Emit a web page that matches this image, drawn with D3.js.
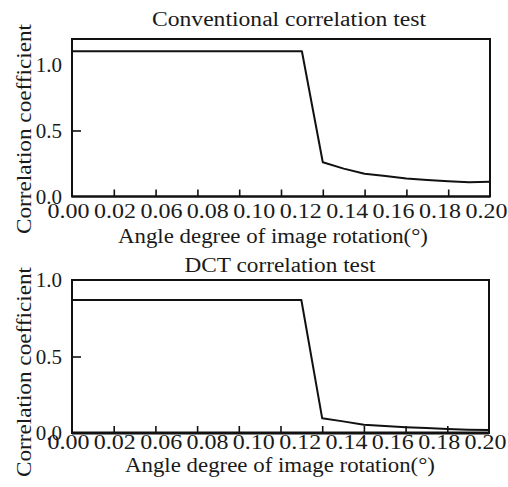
<!DOCTYPE html>
<html>
<head>
<meta charset="utf-8">
<script src="https://cdn.jsdelivr.net/npm/d3@7"></script>
<style>
  html, body { margin: 0; padding: 0; background: #fff; }
  svg { display: block; }
  text { font-family: "Liberation Serif", "DejaVu Serif", serif; fill: #1a1a1a; }
</style>
</head>
<body>
<script>
// values
const angles = [0, 0.02, 0.04, 0.06, 0.08, 0.10, 0.11, 0.12, 0.13, 0.14, 0.15, 0.16, 0.17, 0.18, 0.19, 0.20];
const conventional = [1.10, 1.10, 1.10, 1.10, 1.10, 1.10, 1.10, 0.259, 0.211, 0.172, 0.155, 0.137, 0.125, 0.116, 0.108, 0.112];
const dct = [0.869, 0.869, 0.869, 0.869, 0.869, 0.869, 0.869, 0.096, 0.076, 0.054, 0.045, 0.037, 0.032, 0.026, 0.022, 0.020];
const angleLabels = ["0.00", "0.02", "0.06", "0.08", "0.10", "0.12", "0.14", "0.16", "0.18", "0.20"];
const angleTicks = [0.02, 0.04, 0.06, 0.08, 0.10, 0.12, 0.14, 0.16, 0.18];
const yLabels = [0, 0.5, 1.0];

const panels = [
  { title: "Conventional correlation test", values: conventional,
    left: 72, right: 490, top: 39, bottom: 196.5, yMax: 1.193,
    titleX: 289, titleY: 26, titleLen: 274, tickY: 218, xTitleY: 243, xTitleX: 273, yTitleY: 129, bottomW: 2 },
  { title: "DCT correlation test", values: dct,
    left: 72, right: 489, top: 280, bottom: 433, yMax: 1.0,
    titleX: 280, titleY: 272, titleLen: 191, tickY: 449, xTitleY: 472, xTitleX: 280, yTitleY: 372, bottomW: 3 }
];

const svg = d3.select("body").append("svg")
  .attr("width", 508)
  .attr("height", 487);

panels.forEach(p => {
  const g = svg.append("g");

  const x = d3.scaleLinear().domain([0, 0.20]).range([p.left, p.right]);
  const y = d3.scaleLinear().domain([0, p.yMax]).range([p.bottom, p.top]);
  const xl = d3.scalePoint().domain(angleLabels).range([p.left - 4, p.right - 4]);

  // title
  g.append("text")
    .attr("x", p.titleX).attr("y", p.titleY)
    .attr("text-anchor", "middle")
    .attr("font-size", 20)
    .attr("textLength", p.titleLen)
    .attr("lengthAdjust", "spacingAndGlyphs")
    .text(p.title);

  // inner ticks along the bottom
  g.append("g")
    .attr("transform", `translate(0,${p.bottom})`)
    .call(d3.axisBottom(x).tickValues(angleTicks).tickSize(-7).tickFormat(""))
    .call(a => a.select(".domain").remove())
    .selectAll("line").attr("stroke", "#111").attr("stroke-width", 1.6);

  // inner tick at 0.5 on the left
  g.append("g")
    .attr("transform", `translate(${p.left},0)`)
    .call(d3.axisLeft(y).tickValues([0.5]).tickSize(-9).tickFormat(""))
    .call(a => a.select(".domain").remove())
    .selectAll("line").attr("stroke", "#111").attr("stroke-width", 1.6);

  // y labels
  g.append("g")
    .attr("transform", `translate(${p.left},0)`)
    .call(d3.axisLeft(y).tickValues(yLabels).tickSize(0).tickPadding(10).tickFormat(d3.format(".1f")))
    .call(a => a.select(".domain").remove())
    .selectAll("text")
    .attr("font-size", 21)
    .attr("fill", "#1a1a1a")
    .attr("font-family", "Liberation Serif");

  // x labels (the figure's labels are spread evenly, 0.04 missing)
  g.append("g")
    .attr("transform", `translate(0,${p.tickY})`)
    .call(d3.axisBottom(xl).tickSize(0).tickPadding(0))
    .call(a => a.select(".domain").remove())
    .selectAll("text")
    .attr("dy", 0)
    .attr("font-size", 20)
    .attr("fill", "#1a1a1a")
    .attr("font-family", "Liberation Serif")
    .attr("textLength", 42)
    .attr("lengthAdjust", "spacingAndGlyphs");

  // frame
  g.append("rect")
    .attr("x", p.left).attr("y", p.top)
    .attr("width", p.right - p.left).attr("height", p.bottom - p.top)
    .attr("fill", "none").attr("stroke", "#111").attr("stroke-width", 2);
  g.append("line")
    .attr("x1", p.left).attr("x2", p.right)
    .attr("y1", p.bottom).attr("y2", p.bottom)
    .attr("stroke", "#111").attr("stroke-width", p.bottomW);

  // data line
  const line = d3.line()
    .x((d, i) => x(angles[i]))
    .y(d => y(d));
  g.append("path")
    .datum(p.values)
    .attr("d", line)
    .attr("fill", "none")
    .attr("stroke", "#111")
    .attr("stroke-width", 2)
    .attr("stroke-linejoin", "round");

  // axis titles
  g.append("text")
    .attr("x", p.xTitleX).attr("y", p.xTitleY)
    .attr("text-anchor", "middle")
    .attr("font-size", 20)
    .attr("textLength", 310)
    .attr("lengthAdjust", "spacingAndGlyphs")
    .text("Angle degree of image rotation(°)");

  g.append("text")
    .attr("transform", `translate(31,${p.yTitleY}) rotate(-90)`)
    .attr("text-anchor", "middle")
    .attr("font-size", 22)
    .attr("textLength", 210)
    .attr("lengthAdjust", "spacingAndGlyphs")
    .text("Correlation coefficient");
});
</script>
</body>
</html>
